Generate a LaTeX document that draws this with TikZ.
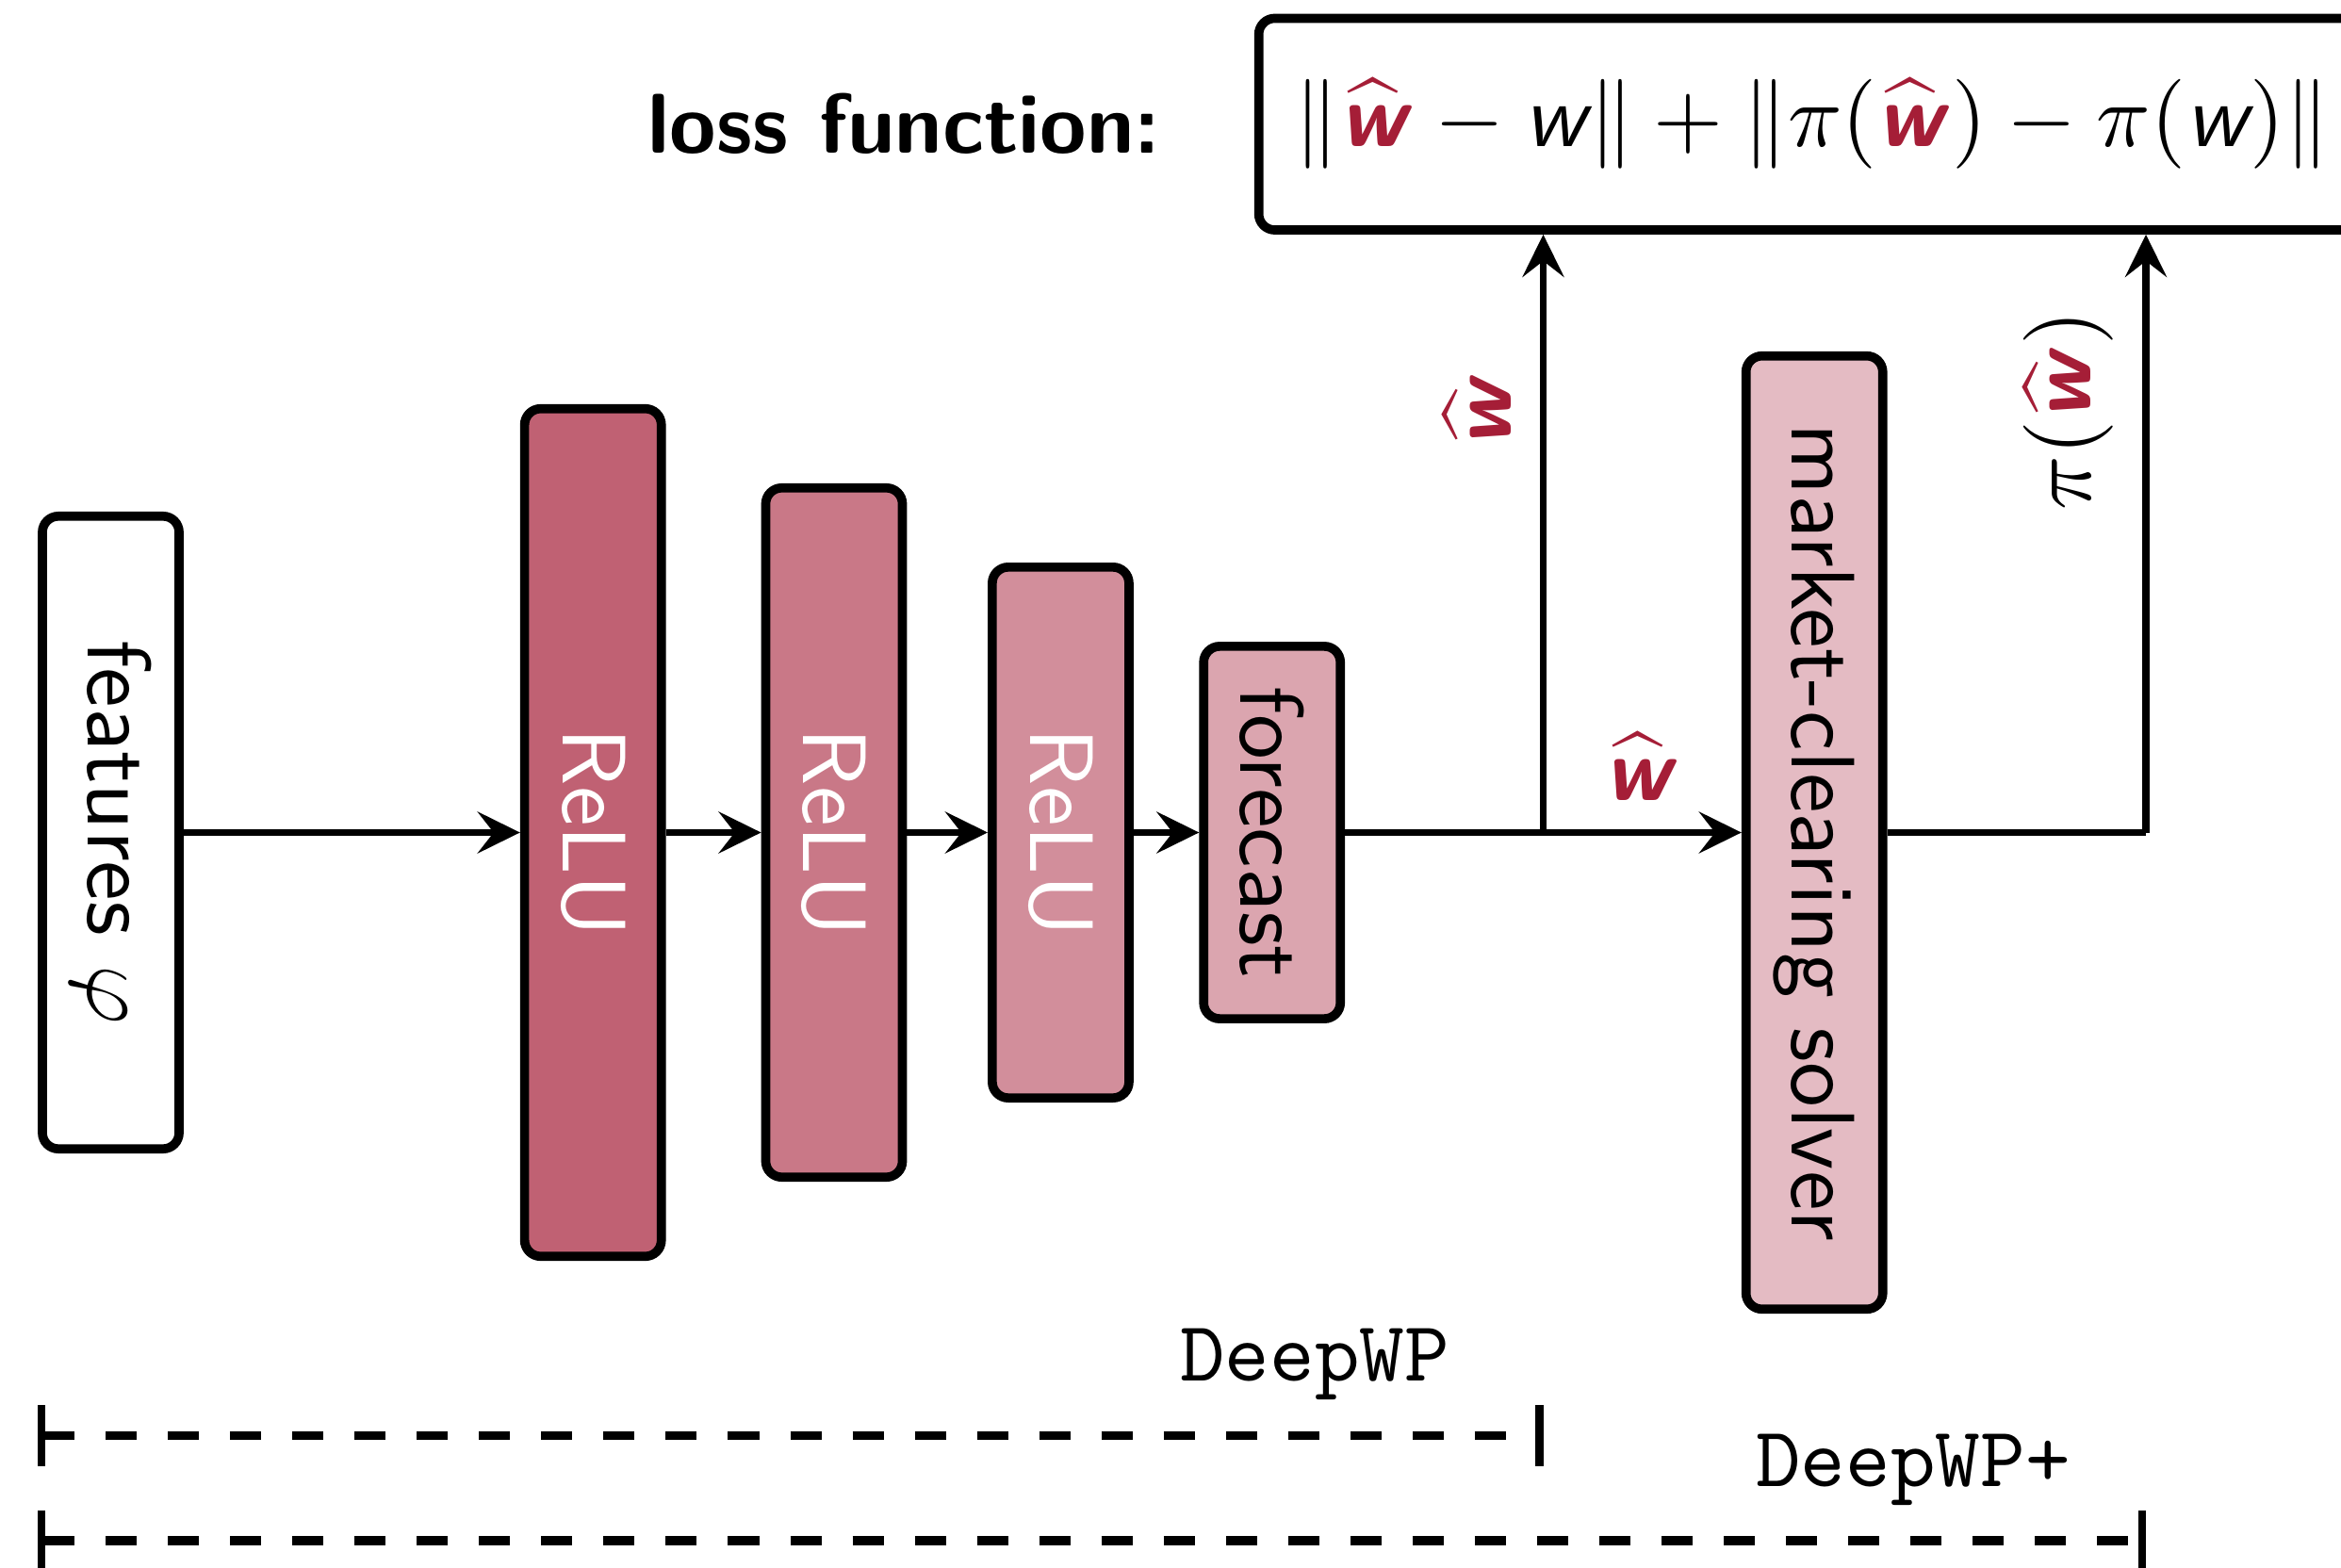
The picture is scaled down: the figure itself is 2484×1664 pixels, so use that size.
\documentclass[tikz,border=0pt]{standalone}
\usepackage[no-math]{fontspec}
\setsansfont{lmsans10-regular.otf}[
  BoldFont=lmsans10-bold.otf,
  ItalicFont=lmsans10-oblique.otf,
  SlantedFont=lmsans10-oblique.otf,
  BoldItalicFont=lmsans10-boldoblique.otf,
  BoldSlantedFont=lmsans10-boldoblique.otf]
\setmonofont{lmmono10-regular.otf}
\DeclareFontShape{OMX}{cmex}{m}{n}{<->cmex10}{}
\DeclareFontShape{OML}{cmm}{m}{it}{<->cmmi10}{}
\DeclareFontShape{OMS}{cmsy}{m}{n}{<->cmsy10}{}
\DeclareFontShape{OT1}{cmr}{m}{n}{<->cmr10}{}
\usepackage{graphicx}
\usetikzlibrary{arrows.meta}
\definecolor{wred}{RGB}{165,30,55}
\newcommand{\wh}{\textcolor{wred}{\widehat{\mbox{\sffamily\bfseries\itshape w}}}\kern0.1em}
\newcommand{\wn}{\mbox{\sffamily\itshape w}\kern0.04em}
\newcommand{\fsz}{\fontsize{27.2}{32.6}\selectfont}
\newcommand{\msz}{\fontsize{27}{32.4}\selectfont}
\begin{document}
\begin{tikzpicture}[x=0.01cm, y=-0.01cm,
  font=\fsz\sffamily,
  blk/.style={draw, line width=2.75pt, rounded corners=0.17cm, minimum width=1.45cm, inner sep=0pt},
  arr/.style={line width=2.1pt, -{Stealth[length=0.45cm, width=0.44cm, inset=0.17cm]}},
  ln/.style={line width=2.1pt},
  spanline/.style={line width=2.8pt, dash pattern=on 0.33cm off 0.33cm,
    {Bar[width=0.64cm, line width=2.3pt]}-{Bar[width=0.64cm, line width=2.3pt]}},
  lbl/.style={font=\msz, inner sep=8.7pt},
  tt/.style={anchor=base, inner sep=0pt, font=\fontsize{25.8}{31}\selectfont\ttfamily}
]
\useasboundingbox (0,0) rectangle (2484,1664);
\clip (0,0) rectangle (2484,1664);

\node[blk, fill=white, minimum height=6.71cm] (feat) at (117.5,883.5) {\rotatebox{-90}{features $\varphi$}};
\node[blk, fill=wred!70, text=white, minimum height=8.99cm] (r1) at (629.2,883.5) {\rotatebox{-90}{ReLU}};
\node[blk, fill=wred!60, text=white, minimum height=7.31cm] (r2) at (885,883.5) {\rotatebox{-90}{ReLU}};
\node[blk, fill=wred!50, text=white, minimum height=5.63cm] (r3) at (1125.4,883.5) {\rotatebox{-90}{ReLU}};
\node[blk, fill=wred!40, minimum height=3.95cm] (fc) at (1349.7,883.5) {\rotatebox{-90}{forecast}};
\node[blk, fill=wred!30, minimum height=10.11cm] (solver) at (1925.2,883.5) {\rotatebox{-90}{market-clearing solver}};

\node[blk, fill=white, font=\msz, minimum width=11.74cm, minimum height=2.245cm] (loss) at (1923,131.75)
  {$\|\wh - \wn\| + \|\pi(\wh) - \pi(\wn)\|$};
\node[anchor=base east, inner sep=0pt, font=\fontsize{25.6}{30.7}\selectfont\sffamily\bfseries] (lf) at (1232,163) {loss function:};

\coordinate (j1) at (1637.5,883.5);
\coordinate (j2) at (2277,883.5);

\draw[arr] (feat) -- (r1);
\draw[arr] (r1) -- (r2);
\draw[arr] (r2) -- (r3);
\draw[arr] (r3) -- (fc);
\draw[ln] (fc) -- (j1);
\draw[arr] (j1) -- node[above, lbl] (l1) {$\wh$} (solver);
\draw[arr] (j1) -- node[pos=0.706, sloped, above, lbl] (l2) {$\wh$} (j1 |- loss.south);
\draw[ln] (solver) -- (j2);
\draw[arr] (j2) -- node[pos=0.706, sloped, above, lbl] (l3) {$\pi(\wh)$} (j2 |- loss.south);

\coordinate (s1a) at (40,1523.5);
\coordinate (s1b) at (1637.5,1523.5);
\coordinate (s2a) at (40,1635);
\coordinate (s2b) at (2277,1635);
\draw[spanline] (s1a) -- (s1b);
\draw[spanline] (s2a) -- (s2b);
\node[tt] (dw) at (1395,1465) {DeepWP};
\node[tt] (dwp) at (2030,1577) {DeepWP+};
\end{tikzpicture}
\end{document}
